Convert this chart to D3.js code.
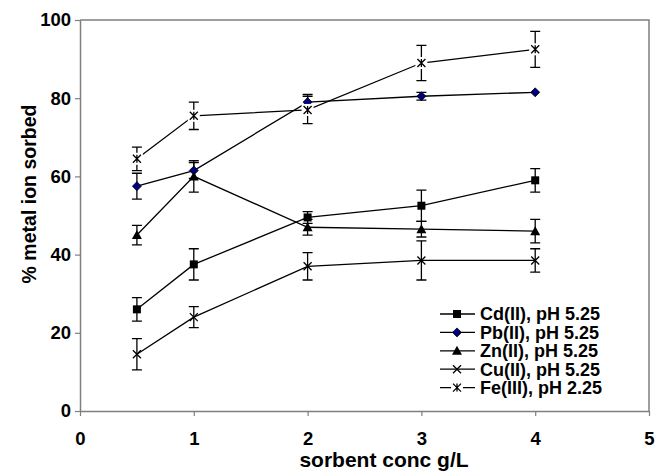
<!DOCTYPE html>
<html>
<head>
<meta charset="utf-8">
<script src="https://cdn.jsdelivr.net/npm/d3@7"></script>
<style>
	body { margin: 0; background: #fff; }
	text { font-family: "Liberation Sans", Arial, sans-serif; font-weight: bold; fill: #000; }
</style>
</head>
<body>
<svg id="chart" width="657" height="475"></svg>
<script>
"use strict"

// sorbent concentration (g/L)
var xValues = [0.5, 1, 2, 3, 4];

// % metal ion sorbed, with error bar half-widths
var cdValues = [26, 37.5, 49.5, 52.5, 59];
var cdErrors = [3, 4, 1.5, 4, 3];
var pbValues = [57.5, 61.5, 79, 80.5, 81.5];
var pbErrors = [3.3, 2, 2, 1, 0];
var znValues = [45, 60, 47, 46.5, 46];
var znErrors = [2.5, 4, 2, 2, 3];
var cuValues = [14.5, 24, 37, 38.5, 38.5];
var cuErrors = [4, 2.7, 3.5, 5, 3];
var feValues = [64.5, 75.5, 77, 89, 92.5];
var feErrors = [3, 3.5, 3.5, 4.5, 4.6];

var seriesNames = ["Cd(II), pH 5.25", "Pb(II), pH 5.25", "Zn(II), pH 5.25", "Cu(II), pH 5.25", "Fe(III), pH 2.25"];
var xTicks = [0, 1, 2, 3, 4, 5];
var yTicks = [0, 20, 40, 60, 80, 100];

var series = [
	{ name: seriesNames[0], values: cdValues, errors: cdErrors, marker: "square" },
	{ name: seriesNames[1], values: pbValues, errors: pbErrors, marker: "diamond" },
	{ name: seriesNames[2], values: znValues, errors: znErrors, marker: "triangle" },
	{ name: seriesNames[3], values: cuValues, errors: cuErrors, marker: "cross" },
	{ name: seriesNames[4], values: feValues, errors: feErrors, marker: "star" }
];

var plotLeft = 80, plotRight = 649, plotTop = 20, plotBottom = 411;
var axisColor = "#7f7f7f";

var x = d3.scaleLinear().domain([0, 5]).range([plotLeft, plotRight]);
var y = d3.scaleLinear().domain([0, 100]).range([plotBottom, plotTop]);

var svg = d3.select("#chart");

// plot frame (top and right edges)
svg.append("path")
	.attr("d", "M" + plotLeft + "," + plotTop + "H" + plotRight + "V" + plotBottom)
	.attr("fill", "none")
	.attr("stroke", axisColor)
	.attr("stroke-width", 1.5);

var xAxis = svg.append("g")
	.attr("transform", "translate(0," + plotBottom + ")")
	.call(d3.axisBottom(x).tickValues(xTicks).tickFormat(d3.format("d")).tickSize(5).tickSizeOuter(0));
var yAxis = svg.append("g")
	.attr("transform", "translate(" + plotLeft + ",0)")
	.call(d3.axisLeft(y).tickValues(yTicks).tickSize(5).tickSizeOuter(0));

[xAxis, yAxis].forEach(function(g) {
	g.select(".domain").attr("stroke", axisColor).attr("stroke-width", 1.5);
	g.selectAll(".tick line").attr("stroke", axisColor).attr("stroke-width", 1.2);
	g.selectAll(".tick text")
		.attr("fill", "#000")
		.style("font-family", "'Liberation Sans', Arial, sans-serif")
		.style("font-weight", "bold")
		.style("font-size", "18.5px");
});
xAxis.selectAll(".tick text").attr("y", 21);
yAxis.selectAll(".tick text").attr("x", -9);

svg.append("text")
	.attr("x", 384).attr("y", 467)
	.attr("text-anchor", "middle")
	.style("font-size", "21px")
	.text("sorbent conc g/L");

svg.append("text")
	.attr("transform", "translate(36,194) rotate(-90)")
	.attr("text-anchor", "middle")
	.style("font-size", "19.5px")
	.text("% metal ion sorbed");

// marker drawing
function drawMarker(g, type, cx, cy) {
	if (type == "square") {
		g.append("rect").attr("x", cx - 4).attr("y", cy - 4).attr("width", 8).attr("height", 8)
			.attr("fill", "#000");
	} else if (type == "diamond") {
		g.append("path")
			.attr("d", "M" + cx + "," + (cy - 4.5) + "L" + (cx + 4.5) + "," + cy + "L" + cx + "," + (cy + 4.5) + "L" + (cx - 4.5) + "," + cy + "Z")
			.attr("fill", "#00007f").attr("stroke", "#000").attr("stroke-width", 0.8);
	} else if (type == "triangle") {
		g.append("path")
			.attr("d", "M" + cx + "," + (cy - 5) + "L" + (cx + 5) + "," + (cy + 4) + "L" + (cx - 5) + "," + (cy + 4) + "Z")
			.attr("fill", "#000");
	} else if (type == "cross") {
		g.append("path")
			.attr("d", "M" + (cx - 4) + "," + (cy - 4) + "L" + (cx + 4) + "," + (cy + 4) + "M" + (cx + 4) + "," + (cy - 4) + "L" + (cx - 4) + "," + (cy + 4))
			.attr("stroke", "#000").attr("stroke-width", 1.3);
	} else if (type == "star") {
		g.append("rect").attr("x", cx - 6).attr("y", cy - 6).attr("width", 12).attr("height", 12)
			.attr("fill", "#fff");
		g.append("path")
			.attr("d", "M" + (cx - 4) + "," + (cy - 4) + "L" + (cx + 4) + "," + (cy + 4) + "M" + (cx + 4) + "," + (cy - 4) + "L" + (cx - 4) + "," + (cy + 4)
				+ "M" + cx + "," + (cy - 4) + "V" + (cy + 4))
			.attr("stroke", "#000").attr("stroke-width", 1.3);
	}
}

var line = d3.line()
	.x(function(d) { return x(d[0]); })
	.y(function(d) { return y(d[1]); });

// lines
series.forEach(function(s) {
	var pts = xValues.map(function(v, i) { return [v, s.values[i]]; });
	svg.append("path")
		.attr("d", line(pts))
		.attr("fill", "none")
		.attr("stroke", "#000")
		.attr("stroke-width", 1.3);
});

// error bars
series.forEach(function(s) {
	var g = svg.append("g").attr("stroke", "#000").attr("stroke-width", 1.3);
	xValues.forEach(function(v, i) {
		var e = s.errors[i];
		if (!e) return;
		var cx = x(v), y0 = y(s.values[i] - e), y1 = y(s.values[i] + e);
		g.append("path")
			.attr("d", "M" + cx + "," + y0 + "V" + y1 + "M" + (cx - 5) + "," + y0 + "H" + (cx + 5) + "M" + (cx - 5) + "," + y1 + "H" + (cx + 5))
			.attr("fill", "none");
	});
});

// markers
series.forEach(function(s) {
	var g = svg.append("g");
	xValues.forEach(function(v, i) {
		drawMarker(g, s.marker, x(v), y(s.values[i]));
	});
});

// legend
var legendTop = 314, legendStep = 18.4;
series.forEach(function(s, i) {
	var ly = legendTop + i * legendStep;
	var g = svg.append("g");
	g.append("line")
		.attr("x1", 440).attr("x2", 475).attr("y1", ly).attr("y2", ly)
		.attr("stroke", "#000").attr("stroke-width", 1.3);
	drawMarker(g, s.marker, 457, ly);
	g.append("text")
		.attr("x", 480).attr("y", ly)
		.attr("dy", "0.35em")
		.style("font-size", "18px")
		.text(s.name);
});
</script>
</body>
</html>
